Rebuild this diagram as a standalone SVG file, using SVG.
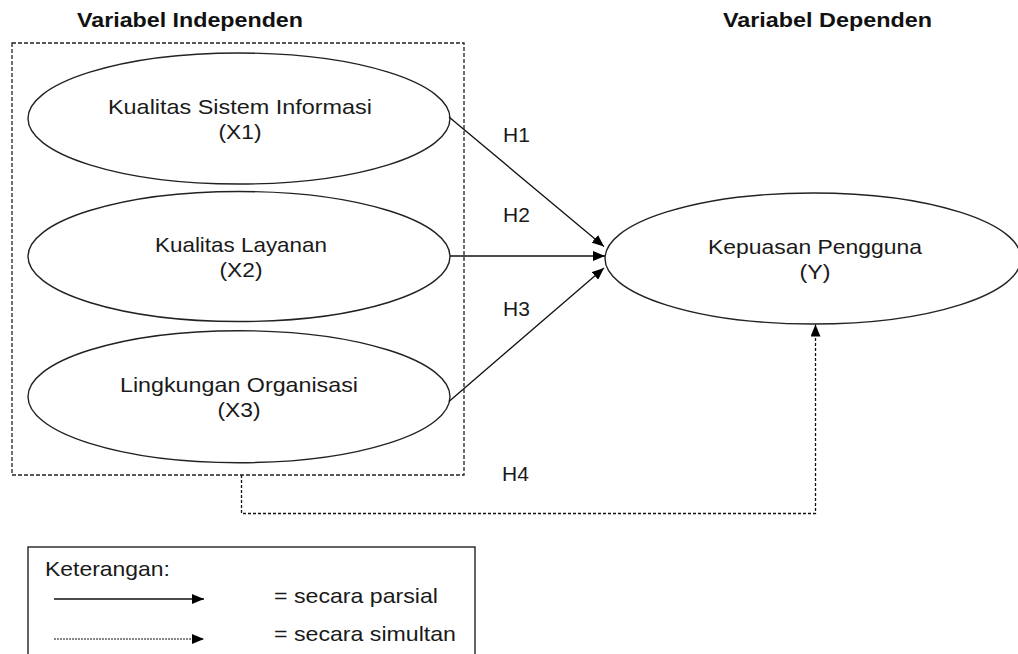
<svg xmlns="http://www.w3.org/2000/svg" width="1018" height="654" viewBox="0 0 1018 654">
<style>
  text { font-family: "Liberation Sans", Arial, sans-serif; font-size: 21px; fill: #1a1a1a; }
  .hdr { font-weight: bold; fill: #111; }
  .mid { text-anchor: middle; }
  .node { fill: #fff; stroke: #222; stroke-width: 1.4; }
  .box { fill: none; stroke: #222; stroke-width: 1.3; stroke-dasharray: 4 2; }
  .solid { fill: none; stroke: #111; stroke-width: 1.3; }
  .dash { fill: none; stroke: #111; stroke-width: 1.3; stroke-dasharray: 3 2; }
  .dot { fill: none; stroke: #111; stroke-width: 1; stroke-dasharray: 2 1; }
</style>
<defs>
  <marker id="arr" markerUnits="userSpaceOnUse" markerWidth="12" markerHeight="10" refX="12" refY="5" orient="auto">
    <path d="M0,0 L12,5 L0,10 z" fill="#000"/>
  </marker>
</defs>
<rect width="1018" height="654" fill="#fff"/>

<text class="hdr mid" x="190" y="27" textLength="226" lengthAdjust="spacingAndGlyphs">Variabel Independen</text>
<text class="hdr mid" x="827.5" y="27" textLength="209" lengthAdjust="spacingAndGlyphs">Variabel Dependen</text>

<g id="group-independen">
  <rect class="box" x="12" y="43" width="452" height="432"/>
</g>

<g id="node-x1">
  <ellipse class="node" cx="239" cy="118.5" rx="211" ry="65.5"/>
  <text class="mid" x="240" y="113.5" textLength="264" lengthAdjust="spacingAndGlyphs">Kualitas Sistem Informasi</text>
  <text class="mid" x="240" y="139" textLength="43" lengthAdjust="spacingAndGlyphs">(X1)</text>
</g>
<g id="node-x2">
  <ellipse class="node" cx="239" cy="256.5" rx="211" ry="65"/>
  <text class="mid" x="241" y="251.5" textLength="172" lengthAdjust="spacingAndGlyphs">Kualitas Layanan</text>
  <text class="mid" x="241" y="277" textLength="43" lengthAdjust="spacingAndGlyphs">(X2)</text>
</g>
<g id="node-x3">
  <ellipse class="node" cx="239" cy="396.7" rx="211" ry="66"/>
  <text class="mid" x="239" y="391.5" textLength="238" lengthAdjust="spacingAndGlyphs">Lingkungan Organisasi</text>
  <text class="mid" x="239" y="417" textLength="43" lengthAdjust="spacingAndGlyphs">(X3)</text>
</g>
<g id="node-y">
  <ellipse class="node" cx="813" cy="258.5" rx="208" ry="65.5"/>
  <text class="mid" x="815" y="254" textLength="214" lengthAdjust="spacingAndGlyphs">Kepuasan Pengguna</text>
  <text class="mid" x="815" y="278.5" textLength="31" lengthAdjust="spacingAndGlyphs">(Y)</text>
</g>

<g id="connectors">
  <line class="solid" x1="449" y1="117" x2="604" y2="246.5" marker-end="url(#arr)"/>
  <line class="solid" x1="450" y1="256" x2="605" y2="256" marker-end="url(#arr)"/>
  <line class="solid" x1="449" y1="401.5" x2="604" y2="268" marker-end="url(#arr)"/>
  <polyline class="dash" points="241.5,475 241.5,513.5 815.5,513.5 815.5,324.5" marker-end="url(#arr)"/>
  <text x="503" y="142">H1</text>
  <text x="503" y="222">H2</text>
  <text x="503" y="316">H3</text>
  <text x="502" y="481">H4</text>
</g>

<g id="legend">
  <rect x="28" y="547" width="447" height="120" fill="none" stroke="#111" stroke-width="1.3"/>
  <text x="45" y="576" textLength="125" lengthAdjust="spacingAndGlyphs">Keterangan:</text>
  <line class="solid" x1="54" y1="599" x2="204" y2="599" marker-end="url(#arr)"/>
  <text x="274" y="603" textLength="164" lengthAdjust="spacingAndGlyphs">= secara parsial</text>
  <line class="dot" x1="54" y1="639" x2="204" y2="639" marker-end="url(#arr)"/>
  <text x="274" y="641" textLength="182" lengthAdjust="spacingAndGlyphs">= secara simultan</text>
</g>
</svg>
